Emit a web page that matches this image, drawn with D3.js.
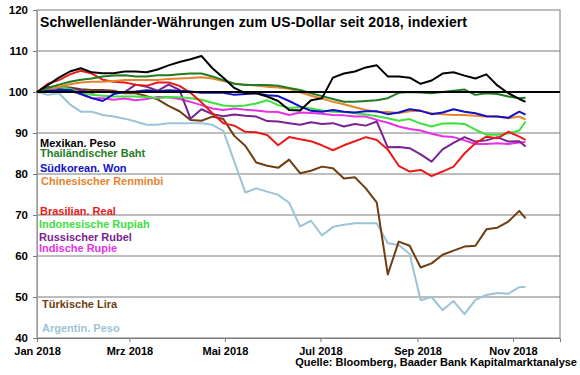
<html>
  <head>
    <style>
      body {
        margin: 0;
        background: #fff;
      }
      text {
        font-family: Arial, "Liberation Sans", sans-serif;
        font-weight: bold;
      }
    </style>
  </head>
  <body>
    <div id="chart"></div>
    <script src="https://d3js.org/d3.v7.min.js"></script>
    <script>
      // weekly readings, indexed 1 Jan 2018 = 100
      var dates = [
        "2018-01-01", "2018-01-08", "2018-01-15", "2018-01-22", "2018-01-29",
        "2018-02-05", "2018-02-12", "2018-02-19", "2018-02-26", "2018-03-05",
        "2018-03-12", "2018-03-19", "2018-03-26", "2018-04-02", "2018-04-09",
        "2018-04-16", "2018-04-23", "2018-04-30", "2018-05-07", "2018-05-14",
        "2018-05-21", "2018-05-28", "2018-06-04", "2018-06-11", "2018-06-18",
        "2018-06-25", "2018-07-02", "2018-07-09", "2018-07-16", "2018-07-23",
        "2018-07-30", "2018-08-06", "2018-08-13", "2018-08-20", "2018-08-27",
        "2018-09-03", "2018-09-10", "2018-09-17", "2018-09-24", "2018-10-01",
        "2018-10-08", "2018-10-15", "2018-10-22", "2018-10-29", "2018-11-05",
        "2018-11-09"
      ];

      var mxn = [100, 101.7, 103.5, 105, 105.8, 104.8, 104.6, 104.6, 105, 105,
        104.8, 105.5, 106.5, 107.3, 108, 108.8, 105.8, 103.5, 101, 99.7,
        99.7, 98.9, 97.8, 95.6, 95.5, 98, 98.5, 103.5, 104.5, 105,
        106, 106.5, 103.8, 103.8, 103.5, 102, 102.8, 104.5, 104.8, 104,
        103.3, 104.3, 101.6, 99.7, 98.3, 97.6];
      var thb = [100, 101, 101.8, 102.5, 103, 103.3, 103.8, 104, 104.1, 103.8,
        103.8, 104.1, 104.1, 104.3, 104.5, 104.5, 103.8, 102.9, 102, 101.7,
        101.7, 101.7, 101.5, 101, 100.5, 99.7, 99, 98.3, 97.6, 97.6,
        97.8, 98, 98.5, 99.8, 100, 99.9, 99.7, 100, 100.3, 100.6,
        99.3, 99.7, 99.5, 98.9, 98.5, 98.6];
      var krw = [100, 100.3, 100.5, 100.5, 99.5, 98.5, 97.8, 99.5, 100, 100.1,
        100.4, 100.2, 100.4, 100.3, 100.1, 99.8, 99.8, 99.8, 99.3, 99.5,
        99.7, 99.2, 99, 97.8, 96.5, 95.4, 95.2, 95.6, 95.2, 95,
        95.3, 95.3, 94.6, 95, 95.8, 95.4, 94.6, 95, 95.8, 95.2,
        94.8, 94.1, 94, 93.7, 95.2, 94.5];
      var cny = [100, 100.7, 101.3, 101.9, 102.3, 102.5, 102.5, 102.7, 102.9, 102.9,
        102.9, 102.9, 103.2, 103.3, 103.4, 103.6, 103.3, 102.7, 102.1, 101.8,
        101.6, 101.3, 101.1, 100.8, 99.9, 99.1, 98.4, 97.6, 97, 96.3,
        95.6, 95.2, 95.1, 94.9, 95.3, 95.4, 94.8, 94.6, 94.4, 94.4,
        94.2, 94, 94, 93.6, 94, 93.3];
      var brl = [100, 102, 102.9, 104.3, 105.2, 104.5, 103, 102.5, 102.3, 101.8,
        101.5, 102.3, 102.3, 101.5, 99.8, 97.5, 94.8, 92.4, 91.8, 90.3,
        90.2, 89.5, 87, 89, 88.5, 88, 87, 85.8, 87, 88,
        89, 88.3, 86, 82, 80.6, 81, 79.5, 80.6, 81.8, 85,
        87.5, 89.1, 88.7, 90.3, 89.1, 88.3];
      var idr = [100, 100.6, 101.2, 100.8, 99.8, 99.3, 99.1, 98.9, 98.9, 98.9,
        98.8, 98.5, 98.8, 98.7, 98.5, 98.1, 97.4, 96.7, 96.5, 96.7,
        97.2, 98, 96.8, 96.1, 96.3, 96, 95.5, 95.2, 95.1, 94.8,
        94.5, 94.1, 93.6, 93, 93.4, 92.3, 91.6, 92.3, 92.4, 92.2,
        90.8, 89.6, 89.6, 89.9, 90.6, 92.8];
      var rub = [100, 101.2, 101, 100.8, 100.5, 99.8, 100.3, 99.8, 100, 101.8,
        101.3, 100.3, 101.8, 100.5, 93.5, 95.8, 94.6, 94.1, 94.5, 94.2,
        94, 92.9, 92.8, 92.4, 92, 92.6, 92.2, 92.4, 91.6, 92.2,
        91.8, 92.8, 86.5, 86.6, 86.3, 84.8, 83, 86, 87.6, 89,
        87.9, 88.2, 89, 87.9, 88, 86.7];
      var inr = [100, 100, 100.2, 100.3, 99.5, 98.5, 98.5, 98.1, 98.4, 98,
        98.3, 98.8, 98.7, 98.3, 97.6, 96.8, 96, 95.6, 96, 95.7,
        95.5, 95.2, 95.1, 94.4, 95, 94.9, 94.7, 94.4, 94.3, 94,
        94, 93.2, 92.5, 91.6, 91, 90.6, 89.8, 89.2, 89, 88.2,
        87.3, 87.3, 87.5, 87.3, 87.7, 87.8];
      var tryl = [100, 100.8, 101.2, 101.1, 100.7, 100.5, 100.5, 100.3, 99.7, 99.7,
        99, 98.2, 96.6, 95.3, 93.2, 93, 94, 93.4, 89.3, 86.9,
        82.8, 82, 81.5, 83.5, 80.2, 80.8, 81.8, 81.4, 78.9, 79.2,
        76.5, 73, 55.5, 63.5, 62.5, 57.2, 58.2, 60.3, 61.3, 62.3,
        62.5, 66.5, 66.9, 68.4, 71, 69.2];
      var ars = [100, 99.3, 99.7, 97, 95.2, 95.2, 94.4, 94, 93.5, 92.8,
        92, 92, 92.4, 92.4, 92.4, 92.4, 92, 90.5, 83, 75.5,
        76.5, 75.7, 74.9, 73, 67.2, 68.6, 65, 67.1, 67.6, 68,
        68, 68, 63.1, 62.7, 60.5, 49.2, 50, 46.8, 49, 45.8,
        49.3, 50.5, 51, 50.8, 52.4, 52.5];

      var names = ["Mexikan. Peso", "Thailändischer Baht", "Südkorean. Won",
        "Chinesischer Renminbi", "Brasilian. Real", "Indonesische Rupiah",
        "Russischer Rubel", "Indische Rupie", "Türkische Lira", "Argentin. Peso"];
      var values = [mxn, thb, krw, cny, brl, idr, rub, inr, tryl, ars];
      var colors = ["#000000", "#1f7d1f", "#1010c8", "#e7832e", "#ea1a1a",
        "#3de03d", "#7a2290", "#e830e8", "#6e3d10", "#9cc3d6"];

      var yTicks = [40, 50, 60, 70, 80, 90, 100, 110, 120];
      var xTicks = ["2018-01-01", "2018-03-01", "2018-05-01", "2018-07-01", "2018-09-01", "2018-11-01"];
      var xTickLabels = ["Jan 2018", "Mrz 2018", "Mai 2018", "Jul 2018", "Sep 2018", "Nov 2018"];

      var width = 580,
        height = 375,
        margin = { top: 10, right: 20, bottom: 37, left: 37 };

      var parse = d3.timeParse("%Y-%m-%d");

      var svg = d3
        .select("#chart")
        .append("svg")
        .attr("width", width)
        .attr("height", height);

      var x = d3
        .scaleTime()
        .domain([parse("2018-01-01"), parse("2018-12-01")])
        .range([margin.left, width - margin.right]);

      var y = d3
        .scaleLinear()
        .domain([40, 120])
        .range([height - margin.bottom, margin.top]);

      // grid
      svg
        .append("g")
        .selectAll("line")
        .data(yTicks.slice(1, -1))
        .enter()
        .append("line")
        .attr("x1", x.range()[0])
        .attr("x2", x.range()[1])
        .attr("y1", function (d) { return y(d); })
        .attr("y2", function (d) { return y(d); })
        .attr("stroke", "#7a7a7a")
        .attr("stroke-width", 1);

      // frame
      svg
        .append("rect")
        .attr("x", x.range()[0])
        .attr("y", y(120))
        .attr("width", x.range()[1] - x.range()[0])
        .attr("height", y(40) - y(120))
        .attr("fill", "none")
        .attr("stroke", "#7a7a7a")
        .attr("stroke-width", 1);

      // y axis
      var yAxis = svg
        .append("g")
        .attr("transform", "translate(" + margin.left + ",0)")
        .call(d3.axisLeft(y).tickValues(yTicks).tickSize(4).tickPadding(5));
      yAxis.select(".domain").attr("stroke", "#9a9a9a");
      yAxis.selectAll(".tick line").attr("stroke", "#7a7a7a");
      yAxis.selectAll("text").attr("font-size", 11.5).attr("fill", "#000");

      // x axis
      var xAxis = svg
        .append("g")
        .attr("transform", "translate(0," + (height - margin.bottom) + ")")
        .call(
          d3
            .axisBottom(x)
            .tickValues(xTicks.map(parse))
            .tickSize(4)
            .tickPadding(5)
            .tickFormat(function (d, i) { return xTickLabels[i]; })
        );
      xAxis.select(".domain").attr("stroke", "#7a7a7a");
      xAxis.selectAll(".tick line").attr("stroke", "#7a7a7a");
      xAxis.selectAll("text").attr("font-size", 11).attr("fill", "#000");

      // lines
      var line = d3
        .line()
        .x(function (d, i) { return x(parse(dates[i])); })
        .y(function (d) { return y(d); });

      var order = [9, 8, 7, 6, 5, 4, 3, 2, 1, 0];
      svg
        .append("g")
        .selectAll("path")
        .data(order)
        .enter()
        .append("path")
        .attr("d", function (k) { return line(values[k]); })
        .attr("fill", "none")
        .attr("stroke", function (k) { return colors[k]; })
        .attr("stroke-width", 2)
        .attr("stroke-linejoin", "round");

      // 100 line on top
      svg
        .append("line")
        .attr("x1", x.range()[0])
        .attr("x2", x.range()[1])
        .attr("y1", y(100))
        .attr("y2", y(100))
        .attr("stroke", "#000")
        .attr("stroke-width", 2);

      // legend labels
      var legendY = [146.5, 157, 171.5, 185, 215, 228, 240.5, 251.5, 308, 332];
      var legendX = [40, 40, 40, 41, 40, 39, 39, 39, 42, 42];
      svg
        .append("g")
        .selectAll("text")
        .data(names)
        .enter()
        .append("text")
        .attr("x", function (d, i) { return legendX[i]; })
        .attr("y", function (d, i) { return legendY[i]; })
        .attr("font-size", 11)
        .attr("fill", function (d, i) { return colors[i]; })
        .text(function (d) { return d; });

      svg
        .append("text")
        .attr("x", 40)
        .attr("y", 27)
        .attr("font-size", 14)
        .attr("textLength", 427)
        .text("Schwellenländer-Währungen zum US-Dollar seit 2018, indexiert");

      svg
        .append("text")
        .attr("x", 577)
        .attr("y", 366)
        .attr("text-anchor", "end")
        .attr("font-size", 11)
        .text("Quelle: Bloomberg, Baader Bank Kapitalmarktanalyse");
    </script>
  </body>
</html>
